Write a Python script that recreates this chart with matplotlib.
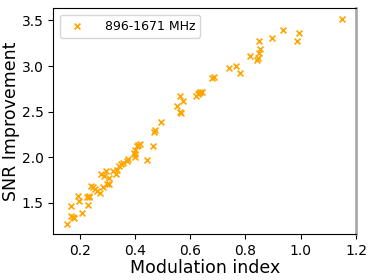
import matplotlib
matplotlib.use("Agg")
import matplotlib.pyplot as plt

mod_index = [0.155, 0.167, 0.175, 0.179, 0.21, 0.167, 0.23, 0.196, 0.194, 0.225,
             0.234, 0.232, 0.242, 0.248, 0.257, 0.264, 0.272, 0.284, 0.30, 0.306,
             0.306, 0.288, 0.296, 0.278, 0.322, 0.33, 0.336, 0.342, 0.35, 0.356,
             0.37, 0.375, 0.396, 0.400, 0.402, 0.402, 0.409, 0.412, 0.42, 0.442,
             0.466, 0.469, 0.471, 0.493, 0.553, 0.562, 0.575, 0.562, 0.567, 0.62,
             0.628, 0.637, 0.641, 0.632, 0.677, 0.685, 0.741, 0.764, 0.779, 0.818,
             0.842, 0.844, 0.848, 0.854, 0.848, 0.895, 0.935, 0.987, 0.994, 1.150]
snr_improvement = [1.27, 1.35, 1.34, 1.33, 1.39, 1.465, 1.47, 1.515, 1.575, 1.56,
                   1.575, 1.56, 1.685, 1.675, 1.65, 1.63, 1.61, 1.67, 1.705, 1.70,
                   1.775, 1.79, 1.845, 1.81, 1.85, 1.81, 1.86, 1.905, 1.92, 1.93,
                   1.96, 1.975, 2.045, 2.08, 2.0, 2.03, 2.12, 2.135, 2.145, 1.965,
                   2.125, 2.27, 2.295, 2.38, 2.565, 2.67, 2.62, 2.50, 2.48, 2.67,
                   2.69, 2.72, 2.72, 2.70, 2.87, 2.875, 2.975, 3.0, 2.92, 3.11,
                   3.07, 3.09, 3.145, 3.19, 3.28, 3.31, 3.39, 3.28, 3.365, 3.52]
series_label = "896-1671 MHz"

fig = plt.figure(figsize=(3.74, 2.8), dpi=100)
ax = fig.add_axes([0.143, 0.165, 0.809, 0.805])
ax.scatter(mod_index, snr_improvement, marker='x', color='orange', s=18,
           linewidths=1.2, label=series_label)
ax.set_xlabel("Modulation index", fontsize=12.5, labelpad=1)
ax.set_ylabel("SNR Improvement", fontsize=12.5, labelpad=1)
ax.tick_params(labelsize=10)
ax.set_xticks([0.2, 0.4, 0.6, 0.8, 1.0, 1.2])
ax.set_yticks([1.5, 2.0, 2.5, 3.0, 3.5])
ax.spines['right'].set_color('#aaaaaa')
ax.spines['right'].set_linewidth(2)
ax.legend(loc='upper left', prop={'size': 9}, handletextpad=1.2)
fig.savefig("out.png", dpi=100)
